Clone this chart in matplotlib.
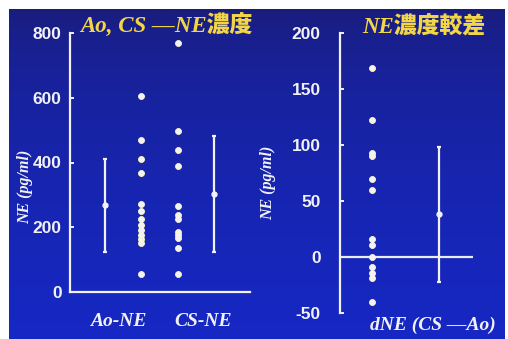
import numpy as np
import matplotlib
matplotlib.use("Agg")
import matplotlib.pyplot as plt

# NE concentration (pg/ml), aorta and coronary sinus
ao_ne = [605, 469, 411, 368, 271, 249, 225, 206, 191, 176, 163, 150, 56]
cs_ne = [770, 498, 439, 390, 266, 239, 227, 186, 176, 166, 135, 55]
ne_mean = [268, 303]
ne_sd = [143, 180]

# difference CS - Ao (pg/ml)
dne = [169, 122, 93, 90, 70, 60, 16, 11, 0, -9, -14, -19, -40]
dne_mean = 38
dne_sd = 60

left_ticks = [0, 200, 400, 600, 800]
right_ticks = [-50, 0, 50, 100, 150, 200]

plt.rcParams["axes.unicode_minus"] = False

W, H = 508, 339
fg = "#f2f2f6"
yellow = "#f2d646"
serif = ["Liberation Serif", "Noto Sans CJK JP"]
tick_font = {"family": "Liberation Sans", "weight": "bold", "size": 12.5}

fig = plt.figure(figsize=(W / 100, H / 100), dpi=100)
fig.patch.set_facecolor("white")

# blue gradient backdrop
bg = fig.add_axes([9 / W, 0, (505 - 9) / W, 1 - 9 / H])
top = np.array([26, 28, 118]) / 255
bottom = np.array([22, 40, 196]) / 255
t = np.linspace(0, 1, 256)[:, None]
grad = top + (bottom - top) * np.sqrt(t)
bg.imshow(grad[:, None, :].repeat(2, axis=1), aspect="auto", extent=[0, 1, 0, 1])
bg.set_axis_off()


def px(x, y):
    return x / W, 1 - y / H


# left panel
ax1 = fig.add_axes([70 / W, 1 - 292 / H, (250 - 70) / W, (292 - 33) / H])
ax1.set_facecolor("none")
ax1.set_xlim(-0.97, 4.0)
ax1.set_ylim(0, 800)
ax1.errorbar([0, 3], ne_mean, yerr=ne_sd, fmt="o", color=fg, ms=3.5,
             elinewidth=1.6, capsize=1.5, capthick=1.6)
ax1.plot([1] * len(ao_ne), ao_ne, "o", color=fg, ms=4.3, mec="#fff8c8", mew=0.6)
ax1.plot([2] * len(cs_ne), cs_ne, "o", color=fg, ms=4.3, mec="#fff8c8", mew=0.6)
ax1.set_yticks(left_ticks)
ax1.set_xticks([])
for s in ["top", "right"]:
    ax1.spines[s].set_visible(False)
for s in ["left", "bottom"]:
    ax1.spines[s].set_color(fg)
    ax1.spines[s].set_linewidth(1.6)
ax1.tick_params(axis="y", direction="in", length=3, width=1.4, color=fg,
                pad=6, labelcolor=fg)
for lab in ax1.get_yticklabels():
    lab.set_fontproperties(matplotlib.font_manager.FontProperties(**tick_font))

# right panel
ax2 = fig.add_axes([340 / W, 1 - 313 / H, (473 - 340) / W, (313 - 33) / H])
ax2.set_facecolor("none")
ax2.set_xlim(0, 4.15)
ax2.set_ylim(-50, 200)
ax2.axhline(0, color="#e8eef8", lw=1.6)
ax2.errorbar([3.1], [dne_mean], yerr=[dne_sd], fmt="o", color=fg, ms=3.5,
             elinewidth=1.6, capsize=1.5, capthick=1.6)
ax2.plot([1] * len(dne), dne, "o", color=fg, ms=4.3, mec="#fff8c8", mew=0.6)
ax2.set_yticks(right_ticks)
ax2.set_xticks([])
for s in ["top", "right", "bottom"]:
    ax2.spines[s].set_visible(False)
ax2.spines["left"].set_color(fg)
ax2.spines["left"].set_linewidth(1.6)
ax2.tick_params(axis="y", direction="in", length=3, width=1.4, color=fg,
                pad=14, labelcolor=fg)
for lab in ax2.get_yticklabels():
    lab.set_fontproperties(matplotlib.font_manager.FontProperties(**tick_font))

# titles and labels
fig.text(*px(166, 25), "Ao, CS —NE濃度", color=yellow, family=serif,
         style="italic", weight="heavy", size=16.5, ha="center", va="center")
fig.text(*px(424, 27), "NE濃度較差", color=yellow, family=serif,
         style="italic", weight="heavy", size=16.5, ha="center", va="center")

fig.text(*px(25, 187), "NE (pg/ml)", color=fg, family=serif, style="italic",
         weight="bold", size=11.5, rotation=90, ha="center", va="center")
fig.text(*px(268, 183), "NE (pg/ml)", color=fg, family=serif, style="italic",
         weight="bold", size=11.5, rotation=90, ha="center", va="center")

fig.text(*px(118, 322), "Ao-NE", color=fg, family=serif, style="italic",
         weight="bold", size=14, ha="center", va="center")
fig.text(*px(203, 322), "CS-NE", color=fg, family=serif, style="italic",
         weight="bold", size=14, ha="center", va="center")
fig.text(*px(433, 325), "dNE (CS —Ao)", color=fg, family=serif, style="italic",
         weight="bold", size=14, ha="center", va="center")

fig.savefig("out.png", dpi=100)
